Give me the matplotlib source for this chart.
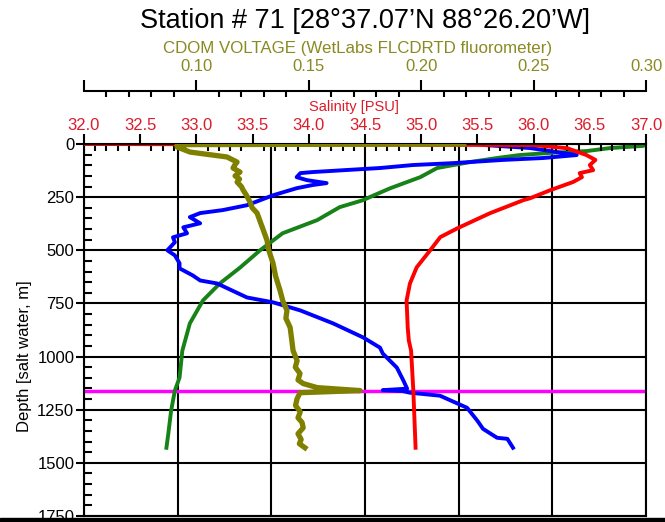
import matplotlib
matplotlib.use("Agg")
import matplotlib.pyplot as plt
from matplotlib.ticker import MultipleLocator, FuncFormatter
from matplotlib.patches import Rectangle

plt.rcParams['font.family'] = ['Liberation Sans', 'DejaVu Sans']

# salinity profile (PSU) vs depth (m)
sal_depth = [0, 2, 5, 20, 52, 75, 99, 123, 137, 156, 179, 217, 255, 264, 326, 397, 438,
             500, 580, 656, 736, 863, 925, 972, 1160, 1429]
salinity = [32.0, 33.5, 36.0, 36.3, 36.47, 36.55, 36.50, 36.53, 36.41, 36.43, 36.35, 36.15,
            35.97, 35.91, 35.61, 35.32, 35.17, 35.08, 34.96, 34.90, 34.87, 34.88, 34.89,
            34.91, 34.93, 34.95]

# CDOM voltage vs depth
cdom_depth = [0, 3, 14, 38, 61, 85, 100, 113, 132, 150, 165, 179, 200, 217, 240, 274, 300,
              325, 360, 400, 453, 500, 561, 620, 689, 740, 783, 820, 863, 920, 972, 1019,
              1050, 1080, 1110, 1127, 1146, 1160, 1170, 1198, 1230, 1260, 1288, 1310, 1335,
              1363, 1390, 1410, 1429]
cdom = [0.219, 0.0914, 0.0914, 0.0972, 0.1136, 0.1181, 0.1170, 0.1163, 0.1194, 0.1172,
        0.1192, 0.1181, 0.1200, 0.1208, 0.1222, 0.1239, 0.1248, 0.1270, 0.1282, 0.1296,
        0.1314, 0.1322, 0.1341, 0.1352, 0.1372, 0.1385, 0.1403, 0.1398, 0.1417, 0.1424,
        0.1430, 0.1448, 0.1440, 0.1461, 0.1452, 0.1475, 0.1537, 0.1728, 0.1461, 0.1448,
        0.1441, 0.1462, 0.1452, 0.1470, 0.1475, 0.1452, 0.1466, 0.1458, 0.1483]

# green profile, in grid divisions of the unlabeled axis
green_depth = [0, 9, 19, 33, 42, 52, 66, 85, 113, 156, 208, 250, 264, 297, 358, 420, 500,
               580, 656, 736, 844, 972, 1099, 1160, 1255, 1363, 1429]
green_val = [5.99, 5.97, 5.62, 5.37, 4.97, 4.65, 4.41, 4.12, 3.77, 3.59, 3.27, 3.05, 2.98,
             2.73, 2.49, 2.12, 1.88, 1.67, 1.45, 1.27, 1.13, 1.05, 1.02, 0.97, 0.93, 0.90,
             0.88]

# blue profile, in grid divisions of the unlabeled axis
blue_depth = [0, 5, 19, 52, 66, 75, 90, 99, 113, 132, 137, 156, 170, 184, 193, 208, 241,
              288, 311, 325, 344, 373, 392, 420, 439, 462, 500, 524, 561, 585, 618, 642,
              656, 722, 745, 783, 844, 910, 958, 986, 1052, 1113, 1151, 1158, 1162, 1170,
              1184, 1241, 1302, 1340, 1382, 1387, 1429]
blue_val = [4.2, 4.28, 4.76, 5.26, 4.90, 4.47, 3.94, 3.51, 3.16, 2.44, 2.31, 2.27, 2.38,
            2.59, 2.44, 2.27, 2.02, 1.74, 1.48, 1.24, 1.13, 1.24, 1.06, 1.10, 0.95, 0.97,
            0.89, 0.97, 1.02, 1.02, 1.16, 1.24, 1.42, 1.74, 2.02, 2.31, 2.66, 2.98, 3.16,
            3.19, 3.34, 3.41, 3.45, 3.19, 3.40, 3.48, 3.80, 4.09, 4.20, 4.26, 4.41, 4.52,
            4.58]

marker_depth = 1160

red = '#ff0000'
red_txt = '#dd1c2a'
olive = '#808000'
olive_txt = '#8a8a22'

fig = plt.figure(figsize=(6.65, 5.22), dpi=100)
ax = fig.add_axes([84 / 665, 6 / 522, 562 / 665, 372 / 522])

# base axis: depth, with the unlabeled 6-division x scale for the grid
ax.set_ylim(1750, 0)
ax.set_xlim(0, 6)
ax.set_axisbelow(True)
ax.xaxis.set_major_locator(MultipleLocator(1))
ax.yaxis.set_major_locator(MultipleLocator(250))
ax.yaxis.set_minor_locator(MultipleLocator(50))
ax.grid(True, which='major', color='black', lw=1.5)
ax.tick_params(axis='x', which='both', length=0, labelbottom=False)
ax.tick_params(axis='y', which='major', direction='out', length=6, width=1.5, labelsize=12, pad=1)
ax.tick_params(axis='y', which='minor', direction='in', length=6, width=1.5)
for s in ax.spines.values():
    s.set_linewidth(1.5)
ax.spines['top'].set_visible(False)

ax.axhline(marker_depth, color='#ff00ff', lw=2.5, zorder=1.5)
ax.plot(green_val, green_depth, color='#178217', lw=2.8, zorder=2)
ax.plot(blue_val, blue_depth, color='#0000ff', lw=2.8, zorder=3)

# salinity axis on top of the plot
ax_sal = ax.twiny()
ax_sal.set_xlim(32, 37)
ax_sal.xaxis.set_major_locator(MultipleLocator(0.5))
ax_sal.xaxis.set_minor_locator(MultipleLocator(0.1))
ax_sal.xaxis.set_major_formatter(FuncFormatter(lambda v, p: '%.1f' % v))
ax_sal.tick_params(axis='x', which='major', direction='out', length=7, width=1.5,
                   labelsize=12, labelcolor=red_txt, pad=1)
ax_sal.tick_params(axis='x', which='minor', direction='in', length=5, width=1.5)
for k in ['left', 'right', 'bottom']:
    ax_sal.spines[k].set_visible(False)
ax_sal.spines['top'].set_linewidth(1.5)
ax_sal.plot(salinity, sal_depth, color=red, lw=2.8)

# CDOM axis, offset above
ax_c = ax.twiny()
ax_c.set_xlim(0.05, 0.30)
ax_c.spines['top'].set_position(('outward', 38))
for k in ['left', 'right', 'bottom']:
    ax_c.spines[k].set_visible(False)
ax_c.spines['top'].set_linewidth(1.5)
ax_c.xaxis.set_major_locator(MultipleLocator(0.05))
ax_c.xaxis.set_minor_locator(MultipleLocator(0.01))
ax_c.xaxis.set_major_formatter(FuncFormatter(lambda v, p: '' if v < 0.07 else '%.2f' % v))
ax_c.tick_params(axis='x', which='major', direction='out', length=8, width=1.5,
                 labelsize=12, labelcolor=olive_txt, pad=4.5)
ax_c.tick_params(axis='x', which='minor', direction='in', length=4, width=1.5)
ax_c.plot(cdom, cdom_depth, color=olive, lw=3.8)

fig.text(365 / 665, 1 - 21 / 522, "Station # 71 [28°37.07’N 88°26.20’W]",
         ha='center', va='center', fontsize=19.5)
fig.text(358 / 665, 1 - 49 / 522, "CDOM VOLTAGE (WetLabs FLCDRTD fluorometer)",
         ha='center', va='center', fontsize=12.2, color=olive_txt)
fig.text(354 / 665, 1 - 107 / 522, "Salinity [PSU]",
         ha='center', va='center', fontsize=10.5, color=red_txt)
fig.text(25 / 665, 1 - 356 / 522, "Depth [salt water, m]",
         ha='center', va='center', fontsize=12, rotation=90)

fig.add_artist(Rectangle((0, 0), 1, 4 / 522, transform=fig.transFigure,
                         color='black', zorder=10))

fig.savefig('out.png', dpi=100)
